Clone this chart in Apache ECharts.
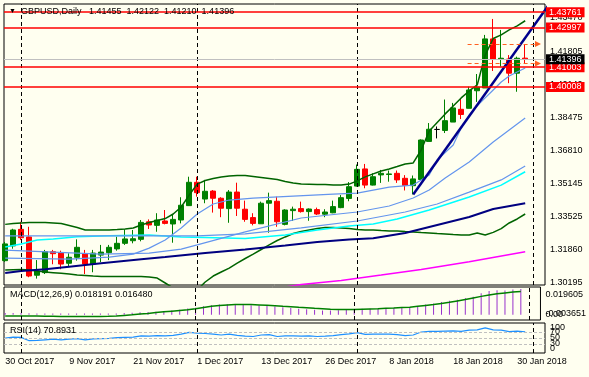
<!DOCTYPE html>
<html>
<head>
<meta charset="utf-8">
<script src="https://cdn.jsdelivr.net/npm/echarts@6.0.0/dist/echarts.min.js"></script>
<style>
  html, body { margin: 0; padding: 0; background: #fffff0; }
  #chart { width: 589px; height: 377px; }
</style>
</head>
<body>
<div id="chart"></div>
<script>
// bars (daily), index 0 = 30 Oct 2017
const dates = ['30 Oct 2017','31 Oct 2017','1 Nov 2017','2 Nov 2017','3 Nov 2017','6 Nov 2017','7 Nov 2017','8 Nov 2017',
  '9 Nov 2017','10 Nov 2017','13 Nov 2017','14 Nov 2017','15 Nov 2017','16 Nov 2017','17 Nov 2017','20 Nov 2017',
  '21 Nov 2017','22 Nov 2017','23 Nov 2017','24 Nov 2017','27 Nov 2017','28 Nov 2017','29 Nov 2017','30 Nov 2017',
  '1 Dec 2017','4 Dec 2017','5 Dec 2017','6 Dec 2017','7 Dec 2017','8 Dec 2017','11 Dec 2017','12 Dec 2017',
  '13 Dec 2017','14 Dec 2017','15 Dec 2017','18 Dec 2017','19 Dec 2017','20 Dec 2017','21 Dec 2017','22 Dec 2017',
  '26 Dec 2017','27 Dec 2017','28 Dec 2017','29 Dec 2017','2 Jan 2018','3 Jan 2018','4 Jan 2018','5 Jan 2018',
  '8 Jan 2018','9 Jan 2018','10 Jan 2018','11 Jan 2018','12 Jan 2018','15 Jan 2018','16 Jan 2018','17 Jan 2018',
  '18 Jan 2018','19 Jan 2018','22 Jan 2018','23 Jan 2018','24 Jan 2018','25 Jan 2018','26 Jan 2018','29 Jan 2018',
  '30 Jan 2018','31 Jan 2018']

const opens = [1.3130,1.3204,1.3287,1.3249,1.3057,1.3070,1.3175,1.3168,1.3117,1.3147,
  1.3163,1.3113,1.3158,1.3170,1.3189,1.3217,1.3230,1.3237,1.3325,1.3307,
  1.3329,1.3314,1.3334,1.3406,1.3523,1.3439,1.3479,1.3443,1.3391,1.3474,
  1.3388,1.3346,1.3315,1.3418,1.3428,1.3312,1.3381,1.3391,1.3376,1.3386,
  1.3363,1.3370,1.3396,1.3442,1.3504,1.3590,1.3509,1.3560,1.3562,1.3568,
  1.3543,1.3506,1.3537,1.3728,1.3788,1.3783,1.3825,1.3889,1.3894,1.3982,
  1.3996,1.4242,1.4139,1.4141,1.4070,1.41455]
const closes = [1.3214,1.3284,1.3245,1.3053,1.3078,1.3175,1.3165,1.3113,1.3147,1.3197,
  1.3113,1.3168,1.3173,1.3197,1.3217,1.3239,1.3240,1.3322,1.3309,1.3334,
  1.3317,1.3337,1.3408,1.3523,1.3471,1.3478,1.3443,1.3393,1.3474,1.3393,
  1.3337,1.3317,1.3418,1.3431,1.3325,1.3384,1.3388,1.3376,1.3389,1.3364,
  1.3374,1.3401,1.3446,1.3501,1.3588,1.3509,1.3551,1.3568,1.3565,1.3535,
  1.3507,1.3540,1.3735,1.3789,1.3788,1.3832,1.3896,1.3863,1.3986,1.4000,
  1.4242,1.4141,1.4145,1.4070,1.4145,1.41396]
const lows = [1.3123,1.3190,1.3234,1.3047,1.3040,1.3063,1.3112,1.3087,1.3100,1.3130,
  1.3063,1.3072,1.3123,1.3133,1.3180,1.3209,1.3217,1.3227,1.3289,1.3275,
  1.3312,1.3220,1.3317,1.3404,1.3451,1.3418,1.3371,1.3348,1.3320,1.3354,
  1.3325,1.3307,1.3314,1.3270,1.3300,1.3307,1.3329,1.3371,1.3330,1.3359,
  1.3348,1.3368,1.3393,1.3428,1.3502,1.3493,1.3507,1.3520,1.3526,1.3520,
  1.3482,1.3462,1.3535,1.3728,1.3743,1.3770,1.3825,1.3840,1.3893,1.3926,
  1.3996,1.4081,1.4103,1.4020,1.3977,1.41210]
const highs = [1.3224,1.3290,1.3325,1.3300,1.3133,1.3184,1.3184,1.3180,1.3167,1.3237,
  1.3184,1.3184,1.3209,1.3209,1.3250,1.3287,1.3284,1.3334,1.3337,1.3368,
  1.3384,1.3359,1.3448,1.3551,1.3551,1.3535,1.3484,1.3448,1.3484,1.3521,
  1.3431,1.3368,1.3426,1.3471,1.3451,1.3388,1.3401,1.3426,1.3392,1.3396,
  1.3388,1.3431,1.3459,1.3524,1.3612,1.3615,1.3568,1.3585,1.3582,1.3582,
  1.3559,1.3557,1.3738,1.3820,1.3803,1.3938,1.3921,1.3942,1.4002,1.4066,
  1.4262,1.4342,1.4287,1.4161,1.4153,1.42122]

// Bollinger bands
const bbUpper = [1.3312,1.3316,1.3319,1.3322,1.3322,1.3321,1.3319,1.3316,1.3306,1.3296,
  1.3284,1.3284,1.3284,1.3284,1.3286,1.3289,1.3294,1.3309,1.3321,1.3331,
  1.3341,1.3364,1.3399,1.3459,1.3514,1.3532,1.3542,1.3550,1.3555,1.3557,
  1.3557,1.3552,1.3547,1.3542,1.3537,1.3527,1.3520,1.3514,1.3513,1.3512,
  1.3512,1.3509,1.3509,1.3514,1.3530,1.3550,1.3565,1.3580,1.3590,1.3602,
  1.3615,1.3620,1.3685,1.3780,1.3823,1.3866,1.3906,1.3946,1.3981,1.4011,
  1.4161,1.4244,1.4262,1.4287,1.4307,1.4333]
const bbLower = [1.3083,1.3085,1.3086,1.3083,1.3078,1.3073,1.3070,1.3067,1.3063,1.3058,
  1.3056,1.3053,1.3051,1.3051,1.3051,1.3051,1.3051,1.3050,1.3048,1.3043,
  1.3018,1.2993,1.2973,1.2963,1.2983,1.3023,1.3053,1.3073,1.3093,1.3118,
  1.3141,1.3163,1.3186,1.3209,1.3231,1.3249,1.3266,1.3276,1.3284,1.3291,
  1.3296,1.3296,1.3294,1.3291,1.3286,1.3284,1.3284,1.3281,1.3279,1.3279,
  1.3276,1.3274,1.3271,1.3269,1.3266,1.3264,1.3261,1.3259,1.3259,1.3269,
  1.3259,1.3272,1.3291,1.3319,1.3339,1.3364]

// moving averages, read at some bars: [bar, price]
const maFast = [[0,1.3143],[8,1.3138],[13,1.3148],[16,1.3163],[18,1.3193],[20,1.3234],[22,1.3294],[24,1.3364],
  [26,1.3414],[28,1.3434],[31,1.3444],[36,1.3454],[41,1.3464],[44,1.3469],[46,1.3484],[48,1.3499],
  [51,1.3509],[53,1.3560],[54,1.3635],[56,1.3710],[57,1.3795],[58,1.3861],[59,1.3906],[60,1.3946],
  [61,1.3986],[62,1.4026],[63,1.4056],[64,1.4076],[65,1.4096]]
const maMid = [[0,1.3183],[6,1.3173],[12,1.3163],[18,1.3168],[22,1.3188],[24,1.3209],[30,1.3274],[37,1.3344],
  [44,1.3374],[48,1.3404],[51,1.3444],[53,1.3484],[55,1.3545],[58,1.3625],[61,1.3725],[63,1.3785],[65,1.3845]]
const maSlow = [[0,1.3254],[12,1.3254],[24,1.3254],[30,1.3264],[37,1.3294],[44,1.3329],[50,1.3374],
  [54,1.3414],[58,1.3474],[62,1.3535],[65,1.3605]]
const maCyan = [[0,1.3199],[2,1.3214],[4,1.3234],[6,1.3239],[9,1.3250],[13,1.3255],[18,1.3259],[22,1.3249],
  [25,1.3246],[30,1.3241],[35,1.3259],[39,1.3284],[43,1.3304],[46,1.3314],[49,1.3339],[53,1.3384],
  [58,1.3449],[62,1.3509],[65,1.3576]]
const maNavy = [[0,1.3068],[2,1.3078],[5,1.3087],[8,1.3100],[12,1.3117],[17,1.3137],[20,1.3148],[25,1.3168],
  [30,1.3186],[35,1.3206],[39,1.3224],[43,1.3236],[46,1.3242],[50,1.3269],[55,1.3319],[58,1.3349],
  [61,1.3389],[65,1.3418]]
const maMagenta = [[35,1.2998],[37,1.3010],[42,1.3031],[47,1.3058],[52,1.3086],[58,1.3125],[65,1.3175]]

// drawn objects
const trendPoints = [[51,1.3462],[68,1.4416]]
const redLevels = [1.43761,1.42997,1.41003,1.40008]
const bidPrice = 1.41396
const orderLevels = [1.42166,1.41188]
const orderSpan = [57.8,66.6]
const separators = [2,24,44,66]
const priceTicks = [1.30195,1.31860,1.33525,1.35145,1.36810,1.38475,1.40140,1.41805,1.43470]

// MACD(12,26,9)
const macdHist = [0.0012,0.0012,0.0012,0.0011,0.0010,0.0010,0.0010,0.0010,0.0010,0.0010,
  0.0010,0.0010,0.0010,0.0010,0.0010,0.0012,0.0014,0.0018,0.0020,0.0022,
  0.0026,0.0030,0.0036,0.0044,0.0050,0.0060,0.0068,0.0072,0.0074,0.0075,
  0.0073,0.0068,0.0066,0.0062,0.0058,0.0053,0.0048,0.0043,0.0040,0.0036,
  0.0030,0.0031,0.0033,0.0035,0.0040,0.0042,0.0043,0.0045,0.0047,0.0050,
  0.0049,0.0050,0.0062,0.0072,0.0080,0.0090,0.0100,0.0106,0.0119,0.0127,
  0.0152,0.0168,0.0174,0.0172,0.0178,0.018191]
const macdSignal = [-0.0008,-0.0008,-0.0008,-0.0009,-0.0009,-0.0010,-0.0010,-0.0011,-0.0011,-0.0012,
  -0.0012,-0.0012,-0.0011,-0.0010,-0.0008,-0.0004,0.0000,0.0005,0.0010,0.0016,
  0.0021,0.0026,0.0031,0.0036,0.0043,0.0052,0.0060,0.0065,0.0070,0.0073,
  0.0073,0.0072,0.0070,0.0067,0.0064,0.0060,0.0057,0.0053,0.0050,0.0046,
  0.0043,0.0040,0.0038,0.0037,0.0037,0.0039,0.0041,0.0043,0.0046,0.0048,
  0.0051,0.0054,0.0060,0.0066,0.0072,0.0080,0.0088,0.0098,0.0108,0.0119,
  0.0130,0.0139,0.0148,0.0154,0.0160,0.016480]
const macdMin = -0.003651, macdMax = 0.019605
const macdTicksA = [0, 0.019605]
const macdTicksB = [-0.003651]

// RSI(14)
const rsi = [50,53,52,41,42,44,46,44,46,48,44,47,48,49,51,52,53,57,56,58,
  57,59,63,69,66,65,63,60,63,59,56,55,60,61,55,57,57,56,57,55,
  56,58,61,64,68,62,63,63,63,61,58,60,70,72,72,73,74,72,76,77,
  84,77,76,71,73,70.8931]
const rsiTicksA = [0, 50, 100]
const rsiTicksB = [30, 70]
const rsiLevels = [30, 50, 70]

const font = 'Liberation Sans, Arial, sans-serif'
const xMin = -0.15, xMax = 67.475

const candles = dates.map((d, i) => [i, opens[i], closes[i], lows[i], highs[i]])
const idx = arr => arr.map((v, i) => [i, v])

const chart = echarts.init(document.getElementById('chart'))

function xAx(g, labels) {
  return {
    type: 'value', gridIndex: g, min: xMin, max: xMax,
    axisLine: { show: false }, axisTick: { show: false }, splitLine: { show: false },
    axisLabel: labels ? {
      show: true, customValues: [0, 8, 16, 24, 32, 40, 48, 56, 64],
      formatter: v => dates[Math.round(v)] || '', align: 'left', margin: 4,
      fontSize: 9, color: '#000', fontFamily: font
    } : { show: false }
  }
}

const richLab = {
  n: { fontSize: 9, color: '#000', fontFamily: font },
  t: { fontSize: 9, color: '#000', fontFamily: font, padding: [16, 0, 0, 0] },
  b: { fontSize: 9, color: '#000', fontFamily: font, padding: [0, 0, 12, 0] },
  t2: { fontSize: 9, color: '#000', fontFamily: font, padding: [10, 0, 0, 0] },
  b2: { fontSize: 9, color: '#000', fontFamily: font, padding: [0, 0, 9, 0] }
}

function yAx(g, min, max, ticks, fmt) {
  return {
    type: 'value', gridIndex: g, min: min, max: max, position: 'right',
    axisLine: { show: false }, axisTick: { show: false }, splitLine: { show: false },
    axisLabel: {
      customValues: ticks, formatter: fmt, margin: 5, fontSize: 9, color: '#000', fontFamily: font,
      rich: richLab, showMinLabel: true, showMaxLabel: true, hideOverlap: false
    }
  }
}

const macdFmt = v => v === 0 ? '{n|0.00}' : (v > 0 ? '{t|' + v.toFixed(6) + '}' : '{b|' + v.toFixed(6) + '}')
const rsiFmt = v => v === 100 ? '{t2|100}' : (v === 0 ? '{b2|0}' : '{n|' + v + '}')

function sepLine(g) {
  return {
    type: 'line', xAxisIndex: g, yAxisIndex: g, data: [], silent: true,
    markLine: {
      symbol: 'none', silent: true, animation: false,
      lineStyle: { color: '#000', type: [4, 3], width: 1 },
      label: { show: false },
      data: separators.map(s => ({ xAxis: s }))
    }
  }
}

function maLine(pts, color, width) {
  return {
    type: 'line', xAxisIndex: 0, yAxisIndex: 0, data: pts, showSymbol: false, silent: true,
    lineStyle: { color: color, width: width }, animation: false
  }
}

const levelLabel = (bg, v) => ({
  show: true, position: 'end', distance: 1, color: '#fff', backgroundColor: bg,
  padding: [1, 3, 0, 3], fontSize: 9, fontFamily: font,
  formatter: () => v.toFixed(5)
})

const option = {
  backgroundColor: '#fffff0',
  animation: false,
  title: [
    { text: '\u25BC', left: 9, top: 8, padding: 0, textStyle: { fontSize: 7, color: '#000', fontWeight: 'normal' } },
    { text: 'GBPUSD,Daily   1.41455  1.42122  1.41210  1.41396', left: 21, top: 7, padding: 0,
      textStyle: { fontSize: 9, color: '#000', fontWeight: 'normal', fontFamily: font } },
    { text: 'MACD(12,26,9) 0.018191 0.016480', left: 10, top: 290, padding: 0,
      textStyle: { fontSize: 9, color: '#000', fontWeight: 'normal', fontFamily: font } },
    { text: 'RSI(14) 70.8931', left: 10, top: 326, padding: 0,
      textStyle: { fontSize: 9, color: '#000', fontWeight: 'normal', fontFamily: font } }
  ],
  grid: [
    { left: 4, width: 541, top: 4, height: 281, show: true, borderColor: '#000', borderWidth: 1, backgroundColor: 'transparent' },
    { left: 4, width: 541, top: 287, height: 33, show: true, borderColor: '#000', borderWidth: 1, backgroundColor: 'transparent' },
    { left: 4, width: 541, top: 323, height: 30, show: true, borderColor: '#000', borderWidth: 1, backgroundColor: 'transparent' }
  ],
  xAxis: [xAx(0, false), xAx(1, false), xAx(2, true)],
  yAxis: [
    yAx(0, 1.3008, 1.4417, priceTicks, v => v.toFixed(5)),
    yAx(1, macdMin, macdMax, macdTicksA, macdFmt),
    yAx(2, 0, 100, rsiTicksA, rsiFmt),
    yAx(1, macdMin, macdMax, macdTicksB, macdFmt),
    yAx(2, 0, 100, rsiTicksB, rsiFmt)
  ],
  series: [
    sepLine(0), sepLine(1), sepLine(2),
    maLine(idx(bbUpper), '#006400', 1.5),
    maLine(idx(bbLower), '#006400', 1.5),
    maLine(maMagenta, '#ff00ff', 1.5),
    maLine(maNavy, '#000080', 2),
    maLine(maCyan, '#00ffff', 1.5),
    maLine(maSlow, '#6495ed', 1.2),
    maLine(maMid, '#6495ed', 1.2),
    maLine(maFast, '#6495ed', 1.2),
    {
      type: 'candlestick', xAxisIndex: 0, yAxisIndex: 0, data: candles,
      encode: { x: 0, y: [1, 2, 3, 4] }, barWidth: 5,
      itemStyle: { color: '#008000', color0: '#ff0000', borderColor: '#008000', borderColor0: '#ff0000',
        borderColorDoji: '#000', borderWidth: 1 },
      markLine: {
        symbol: 'none', silent: true, animation: false, precision: 5,
        data: redLevels.map(v => ({ yAxis: v, lineStyle: { color: '#ff0000', width: 1.5, type: 'solid' }, label: levelLabel('#ff0000', v) }))
          .concat([{ yAxis: bidPrice, lineStyle: { color: '#c0c0c0', width: 1, type: 'solid' }, label: levelLabel('#000', bidPrice) }])
      }
    },
    {
      type: 'line', xAxisIndex: 0, yAxisIndex: 0, data: trendPoints, showSymbol: false, silent: true,
      lineStyle: { color: '#00008b', width: 2.5 },
      markLine: {
        silent: true, animation: false, symbol: ['none', 'triangle'], symbolSize: 6, precision: 5,
        lineStyle: { color: '#ff6020', width: 1, type: [4, 3] },
        label: { show: false },
        data: orderLevels.map(v => [{ coord: [orderSpan[0], v] }, { coord: [orderSpan[1], v] }])
      }
    },
    {
      type: 'bar', xAxisIndex: 1, yAxisIndex: 1, data: idx(macdHist), barWidth: 1, silent: true,
      itemStyle: { color: '#9932cc' }
    },
    {
      type: 'line', xAxisIndex: 1, yAxisIndex: 1, data: idx(macdSignal), showSymbol: false, silent: true,
      lineStyle: { color: '#008000', width: 1.5 }
    },
    {
      type: 'line', xAxisIndex: 2, yAxisIndex: 2, data: idx(rsi), showSymbol: false, silent: true,
      lineStyle: { color: '#1e90ff', width: 1.2 },
      markLine: {
        symbol: 'none', silent: true, animation: false,
        lineStyle: { color: '#c0c0c0', type: [3, 2], width: 1 }, label: { show: false },
        data: rsiLevels.map(v => ({ yAxis: v }))
      }
    }
  ]
}

chart.setOption(option)
</script>
</body>
</html>
